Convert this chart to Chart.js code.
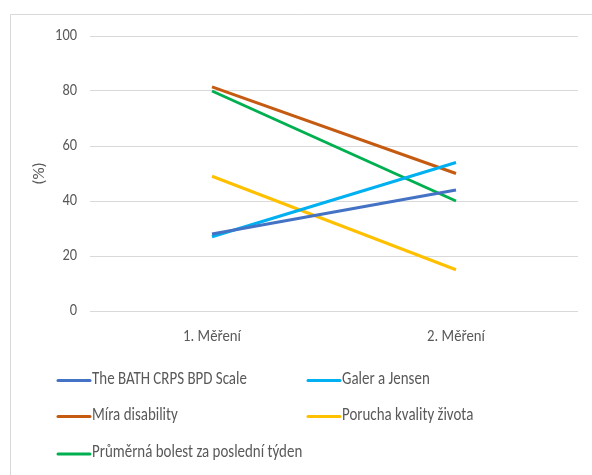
<!DOCTYPE html>
<html>
<head>
<meta charset="utf-8">
<script src="https://cdn.jsdelivr.net/npm/chart.js@4/dist/chart.umd.min.js"></script>
<style>
  html, body { margin: 0; padding: 0; background: #ffffff; }
  #wrap { position: relative; width: 592px; height: 475px; }
  canvas { display: block; }
</style>
</head>
<body>
<div id="wrap"><canvas id="chart" width="592" height="475"></canvas></div>
<script>
// Measurement rounds on the x axis
const categories = ['1. Měření', '2. Měření'];

// Series names and values (%)
const seriesNames = [
  'The BATH CRPS BPD Scale',
  'Galer a Jensen',
  'Míra disability',
  'Porucha kvality života',
  'Průměrná bolest za poslední týden'
];
const bathValues = [28, 44];
const galerValues = [27, 54];
const disabilityValues = [81.5, 50];
const qualityValues = [49, 15];
const painValues = [80, 40];

// Y axis ticks
const yTicks = [0, 20, 40, 60, 80, 100];
const yTitle = '(%)';

const seriesColors = ['#4472C4', '#00B0F0', '#C55A11', '#FFC000', '#00B050'];
const seriesValues = [bathValues, galerValues, disabilityValues, qualityValues, painValues];

const FONT = 'Carlito, "Liberation Sans", sans-serif';
const TEXT = '#595959';

// Draws text squeezed horizontally by factor sx
function drawNarrowText(ctx, text, x, y, align, sx) {
  ctx.save();
  ctx.translate(x, y);
  ctx.scale(sx, 1);
  ctx.textAlign = align;
  ctx.fillText(text, 0, 0);
  ctx.restore();
}

// Outer frame around the chart
const framePlugin = {
  id: 'frame',
  beforeDraw(chart) {
    const ctx = chart.ctx;
    ctx.save();
    ctx.strokeStyle = '#d9d9d9';
    ctx.lineWidth = 1;
    ctx.beginPath();
    ctx.moveTo(10.5, 480);
    ctx.lineTo(10.5, 14.5);
    ctx.lineTo(600, 14.5);
    ctx.stroke();
    ctx.restore();
  }
};

// Tick labels for both axes, taken from the chart's scales
const tickLabelPlugin = {
  id: 'tickLabels',
  afterDraw(chart) {
    const ctx = chart.ctx;
    const xs = chart.scales.x;
    const ys = chart.scales.y;
    ctx.save();
    ctx.font = '16px ' + FONT;
    ctx.fillStyle = TEXT;
    ctx.textBaseline = 'middle';
    ys.ticks.forEach(t => {
      drawNarrowText(ctx, String(t.value), ys.right - 13, ys.getPixelForValue(t.value), 'right', 0.9);
    });
    chart.data.labels.forEach((lab, i) => {
      drawNarrowText(ctx, lab, xs.getPixelForValue(i), chart.chartArea.bottom + 26, 'center', 0.92);
    });
    ctx.restore();
  }
};

// Two-column legend below the plot
const legendPlugin = {
  id: 'gridLegend',
  afterDraw(chart) {
    const ctx = chart.ctx;
    ctx.save();
    ctx.font = '18px ' + FONT;
    ctx.fillStyle = TEXT;
    ctx.textBaseline = 'middle';
    const colX = [57, 307];
    const rowY = [380.5, 416.5, 454];
    chart.data.datasets.forEach((ds, i) => {
      const x = colX[i % 2];
      const y = rowY[Math.floor(i / 2)];
      ctx.strokeStyle = ds.borderColor;
      ctx.lineWidth = 3;
      ctx.lineCap = 'round';
      ctx.beginPath();
      ctx.moveTo(x + 1, y);
      ctx.lineTo(x + 33, y);
      ctx.stroke();
      drawNarrowText(ctx, ds.label, x + 35, y - 1.5, 'left', 0.83);
    });
    ctx.restore();
  }
};

new Chart(document.getElementById('chart'), {
  type: 'line',
  data: {
    labels: categories,
    datasets: seriesNames.map((name, i) => ({
      label: name,
      data: seriesValues[i],
      borderColor: seriesColors[i],
      backgroundColor: seriesColors[i],
      borderWidth: 3,
      pointRadius: 0,
      pointHoverRadius: 0,
      tension: 0,
      fill: false
    }))
  },
  options: {
    responsive: false,
    animation: false,
    devicePixelRatio: 1,
    layout: { padding: { left: 0, right: 14, top: 36, bottom: 129 } },
    plugins: {
      legend: { display: false },
      tooltip: { enabled: false }
    },
    scales: {
      x: {
        offset: true,
        grid: { display: false, drawTicks: false },
        border: { display: false },
        ticks: { display: false },
        afterFit(scale) { scale.height = 35; }
      },
      y: {
        min: 0,
        max: 100,
        afterBuildTicks(scale) { scale.ticks = yTicks.map(v => ({ value: v })); },
        grid: { color: '#d9d9d9', lineWidth: 1, drawTicks: false },
        border: { display: false },
        ticks: { display: false },
        title: {
          display: true,
          text: yTitle,
          color: TEXT,
          font: { family: FONT, size: 17 },
          padding: { top: 30, bottom: 0 }
        },
        afterFit(scale) { scale.width = 90; }
      }
    }
  },
  plugins: [framePlugin, tickLabelPlugin, legendPlugin]
});
</script>
</body>
</html>
